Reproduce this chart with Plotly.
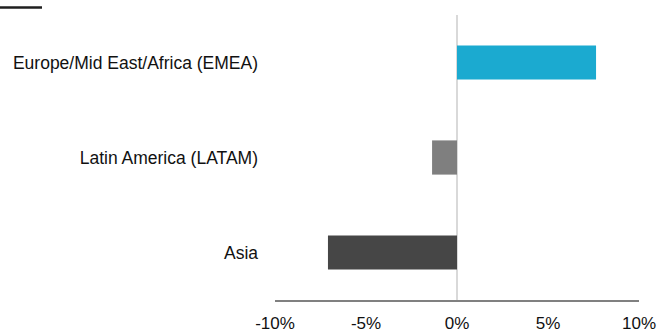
import plotly.graph_objects as go

categories = ["Europe/Mid East/Africa (EMEA)", "Latin America (LATAM)", "Asia"]
values = [7.64, -1.37, -7.09]
colors = ["#1BAAD0", "#7F7F7F", "#464646"]
tick_vals = [-10, -5, 0, 5, 10]
tick_text = ["-10%", "-5%", "0%", "5%", "10%"]

FONT = "Liberation Sans, Arial, sans-serif"

fig = go.Figure(go.Bar(
    y=categories, x=values, orientation="h",
    marker=dict(color=colors, line=dict(width=0)),
    width=0.36,
))

fig.update_layout(
    width=658, height=335,
    margin=dict(l=275, r=19, t=14.5, b=35, autoexpand=False),
    paper_bgcolor="white", plot_bgcolor="white",
    showlegend=False,
    font=dict(family=FONT, size=17.5, color="#111111"),
    shapes=[dict(type="line", xref="paper", yref="paper",
                 x0=-275/364, x1=-233/364, y0=1 + 7.5/285.5, y1=1 + 7.5/285.5,
                 line=dict(color="#1f1f1f", width=2.5))],
)
fig.update_xaxes(
    range=[-10, 10], tickvals=tick_vals, ticktext=tick_text,
    showgrid=False, zeroline=True, zerolinecolor="#D9D9D9", zerolinewidth=2,
    showline=True, linecolor="#808080", linewidth=1.5,
    ticks="", ticklabelstandoff=7, automargin=False,
    tickfont=dict(size=17),
)
fig.update_yaxes(
    categoryorder="array", categoryarray=categories[::-1],
    showgrid=False, zeroline=False, showline=False, ticks="",
    ticklabelstandoff=16, range=[-0.5, 2.5], automargin=False,
)
fig.write_html("out.html")
